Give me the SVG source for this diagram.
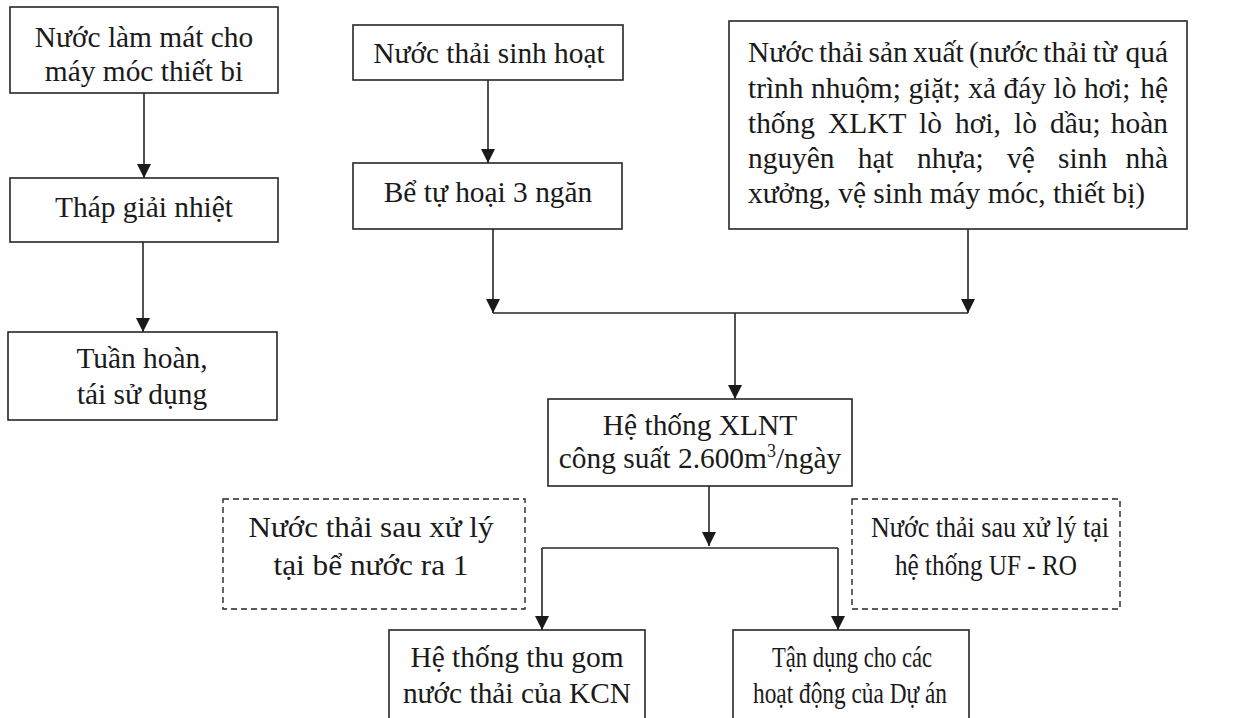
<svg xmlns="http://www.w3.org/2000/svg" width="1259" height="718" viewBox="0 0 1259 718">
  <style>
    .box { fill: #ffffff; stroke: #262626; stroke-width: 1.6; }
    .dash { fill: #ffffff; stroke: #262626; stroke-width: 1.4; stroke-dasharray: 6 4; }
    .t { font-family: "Liberation Serif", "Times New Roman", serif; font-size: 29.4px; fill: #1a1a1a; }
    .c { text-anchor: middle; }
    .e { text-anchor: end; }
    .line { fill: none; stroke: #262626; stroke-width: 1.6; }
  </style>
  <defs>
    <marker id="arrow" markerUnits="userSpaceOnUse" markerWidth="16" markerHeight="16" refX="14" refY="7" orient="auto">
      <path d="M0,0 L14,7 L0,14 Z" fill="#1a1a1a"/>
    </marker>
  </defs>

  <rect width="1259" height="718" fill="#ffffff"/>

  <!-- connectors -->
  <g id="connectors">
    <line class="line" x1="144" y1="93" x2="144" y2="178" marker-end="url(#arrow)"/>
    <line class="line" x1="143" y1="242" x2="143" y2="332" marker-end="url(#arrow)"/>
    <line class="line" x1="488" y1="80" x2="488" y2="163" marker-end="url(#arrow)"/>
    <line class="line" x1="493" y1="229" x2="493" y2="313" marker-end="url(#arrow)"/>
    <line class="line" x1="968" y1="229" x2="968" y2="313" marker-end="url(#arrow)"/>
    <line class="line" x1="493" y1="313" x2="968" y2="313"/>
    <line class="line" x1="735" y1="313" x2="735" y2="399" marker-end="url(#arrow)"/>
    <line class="line" x1="709" y1="486" x2="709" y2="546" marker-end="url(#arrow)"/>
    <line class="line" x1="542" y1="548" x2="838" y2="548"/>
    <line class="line" x1="542" y1="548" x2="542" y2="630" marker-end="url(#arrow)"/>
    <line class="line" x1="838" y1="548" x2="838" y2="630" marker-end="url(#arrow)"/>
  </g>

  <!-- cooling water branch -->
  <g id="cooling-water">
    <rect class="box" x="10" y="7" width="268" height="86"/>
    <text class="t c" x="144" y="47">Nước làm mát cho</text>
    <text class="t c" x="144" y="81">máy móc thiết bi</text>
  </g>
  <g id="cooling-tower">
    <rect class="box" x="10" y="178" width="268" height="64"/>
    <text class="t c" x="144" y="217">Tháp giải nhiệt</text>
  </g>
  <g id="recirculation">
    <rect class="box" x="8" y="332" width="269" height="88"/>
    <text class="t c" x="142" y="368">Tuần hoàn,</text>
    <text class="t c" x="142" y="404">tái sử dụng</text>
  </g>

  <!-- domestic wastewater branch -->
  <g id="domestic-wastewater">
    <rect class="box" x="353" y="25" width="270" height="55"/>
    <text class="t c" x="489" y="63">Nước thải sinh hoạt</text>
  </g>
  <g id="septic-tank">
    <rect class="box" x="353" y="163" width="269" height="66"/>
    <text class="t c" x="488" y="202">Bể tự hoại 3 ngăn</text>
  </g>

  <!-- production wastewater: justified paragraph, last word of each full line pinned to the right margin -->
  <g id="production-wastewater">
    <rect class="box" x="729" y="21" width="458" height="208"/>
    <text class="t" x="748" y="62" word-spacing="-2">Nước thải sản xuất (nước thải từ</text>
    <text class="t e" x="1168" y="62">quá</text>
    <text class="t" x="748" y="98" word-spacing="0.2">trình nhuộm; giặt; xả đáy lò hơi;</text>
    <text class="t e" x="1168" y="98">hệ</text>
    <text class="t" x="748" y="133" word-spacing="5.8">thống XLKT lò hơi, lò dầu;</text>
    <text class="t e" x="1168" y="133">hoàn</text>
    <text class="t" x="748" y="168" word-spacing="16">nguyên hạt nhựa; vệ sinh</text>
    <text class="t e" x="1168" y="168">nhà</text>
    <text class="t" x="748" y="203">xưởng, vệ sinh máy móc, thiết bị)</text>
  </g>

  <!-- treatment plant -->
  <g id="treatment-plant">
    <rect class="box" x="548" y="399" width="304" height="87"/>
    <text class="t c" x="700" y="435">Hệ thống XLNT</text>
    <text class="t c" x="700" y="468">công suất 2.600m<tspan font-size="18" dy="-11">3</tspan><tspan dy="11">/ngày</tspan></text>
  </g>

  <!-- dashed notes -->
  <g id="note-outlet-tank">
    <rect class="dash" x="223" y="499" width="302" height="110"/>
    <text class="t c" x="371" y="537" textLength="245" lengthAdjust="spacingAndGlyphs">Nước thải sau xử lý</text>
    <text class="t c" x="371" y="575" textLength="195" lengthAdjust="spacingAndGlyphs">tại bể nước ra 1</text>
  </g>
  <g id="note-uf-ro">
    <rect class="dash" x="852" y="499" width="268" height="110"/>
    <text class="t c" x="990" y="537" textLength="238" lengthAdjust="spacingAndGlyphs">Nước thải sau xử lý tại</text>
    <text class="t c" x="986" y="575" textLength="182" lengthAdjust="spacingAndGlyphs">hệ thống UF - RO</text>
  </g>

  <!-- outputs -->
  <g id="kcn-collection">
    <rect class="box" x="389" y="630" width="256" height="100"/>
    <text class="t c" x="517" y="667">Hệ thống thu gom</text>
    <text class="t c" x="517" y="703">nước thải của KCN</text>
  </g>
  <g id="project-reuse">
    <rect class="box" x="733" y="630" width="236" height="100"/>
    <text class="t c" x="852" y="667" textLength="160" lengthAdjust="spacingAndGlyphs">Tận dụng cho các</text>
    <text class="t c" x="850" y="703" textLength="194" lengthAdjust="spacingAndGlyphs">hoạt động của Dự án</text>
  </g>
</svg>
